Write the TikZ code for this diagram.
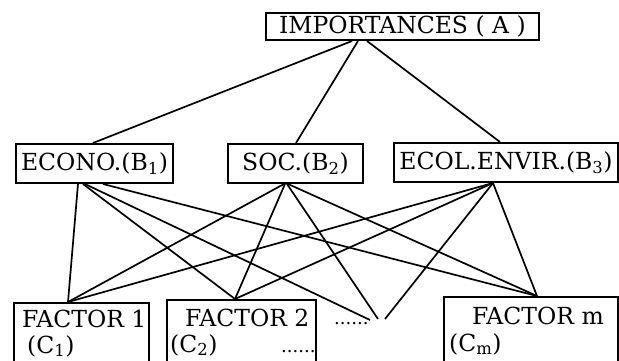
\documentclass[tikz,border=0pt]{standalone}
\usepackage{fontspec}
\setmainfont{DejaVu Serif}
\usetikzlibrary{calc}
\begin{document}
\begin{tikzpicture}[x=1pt,y=-1pt,
  box/.style={draw, line width=2pt, inner sep=0pt, anchor=north west, font=\fontsize{23.5}{28}\selectfont},
  lbl/.style={inner sep=0pt, anchor=base west, font=\fontsize{23.5}{28}\selectfont},
  link/.style={line width=1.7pt}]
\useasboundingbox (0,0) rectangle (619,361);
\clip (0,0) rectangle (619,361);
% top
\node[box, minimum width=273pt, minimum height=27pt] (A) at (265,12) {IMPORTANCES ( A )};
% middle
\node[box, minimum width=157pt, minimum height=39pt] (econo) at (15,143) {ECONO.(B\textsubscript{1})};
\node[box, minimum width=135pt, minimum height=39pt] (soc) at (227,143) {SOC.(B\textsubscript{2})};
\node[box, minimum width=224pt, minimum height=39pt] (ecol) at (393,142) {ECOL.ENVIR.(B\textsubscript{3})};
% bottom
\node[box, minimum width=135pt, minimum height=80pt] (f1) at (13,302) {};
\node[box, minimum width=149pt, minimum height=80pt] (f2) at (166,299) {};
\node[box, minimum width=174pt, minimum height=80pt] (fm) at (443,296) {};
\node[lbl] (f1a) at (22,327) {FACTOR 1};
\node[lbl] (f1b) at (27,353) {(C\textsubscript{1})};
\node[lbl] (f2a) at (185,326) {FACTOR 2};
\node[lbl] (f2b) at (170,352) {(C\textsubscript{2})};
\node[lbl] (f2c) at (281,352) {\fontsize{18}{20}\selectfont ......};
\node[lbl] (dots) at (334,324) {\fontsize{18}{20}\selectfont ......};
\node[lbl] (fma) at (472,324) {FACTOR m};
\node[lbl] (fmb) at (449,351) {(C\textsubscript{m})};
% dots convergence points
\coordinate (d1) at (370,320);
\coordinate (d2) at (378,319);
\coordinate (d3) at (385,319);
% A to B
\draw[link] ($(A.south west)+(87,0)$) -- ($(econo.north west)+(78,0)$);
\draw[link] ($(A.south west)+(93,0)$) -- ($(soc.north west)+(69,0)$);
\draw[link] ($(A.south west)+(102,0)$) -- ($(ecol.north west)+(107,0)$);
% ECONO to C
\draw[link] ($(econo.south west)+(63,0)$) -- ($(f1.north west)+(55,0)$);
\draw[link] ($(econo.south west)+(68,0)$) -- ($(f2.north west)+(69,0)$);
\draw[link] ($(econo.south west)+(70,0)$) -- (d1);
\draw[link] ($(econo.south west)+(88,0)$) -- ($(fm.north west)+(94,0)$);
% SOC to C
\draw[link] ($(soc.south west)+(57,0)$) -- ($(f1.north west)+(55,0)$);
\draw[link] ($(soc.south west)+(58,0)$) -- ($(f2.north west)+(69,0)$);
\draw[link] ($(soc.south west)+(60,0)$) -- (d2);
\draw[link] ($(soc.south west)+(61,0)$) -- ($(fm.north west)+(94,0)$);
% ECOL to C
\draw[link] ($(ecol.south west)+(100,0)$) -- ($(f1.north west)+(55,0)$);
\draw[link] ($(ecol.south west)+(100,0)$) -- ($(f2.north west)+(69,0)$);
\draw[link] ($(ecol.south west)+(100,0)$) -- (d3);
\draw[link] ($(ecol.south west)+(100,0)$) -- ($(fm.north west)+(94,0)$);
\end{tikzpicture}
\end{document}
